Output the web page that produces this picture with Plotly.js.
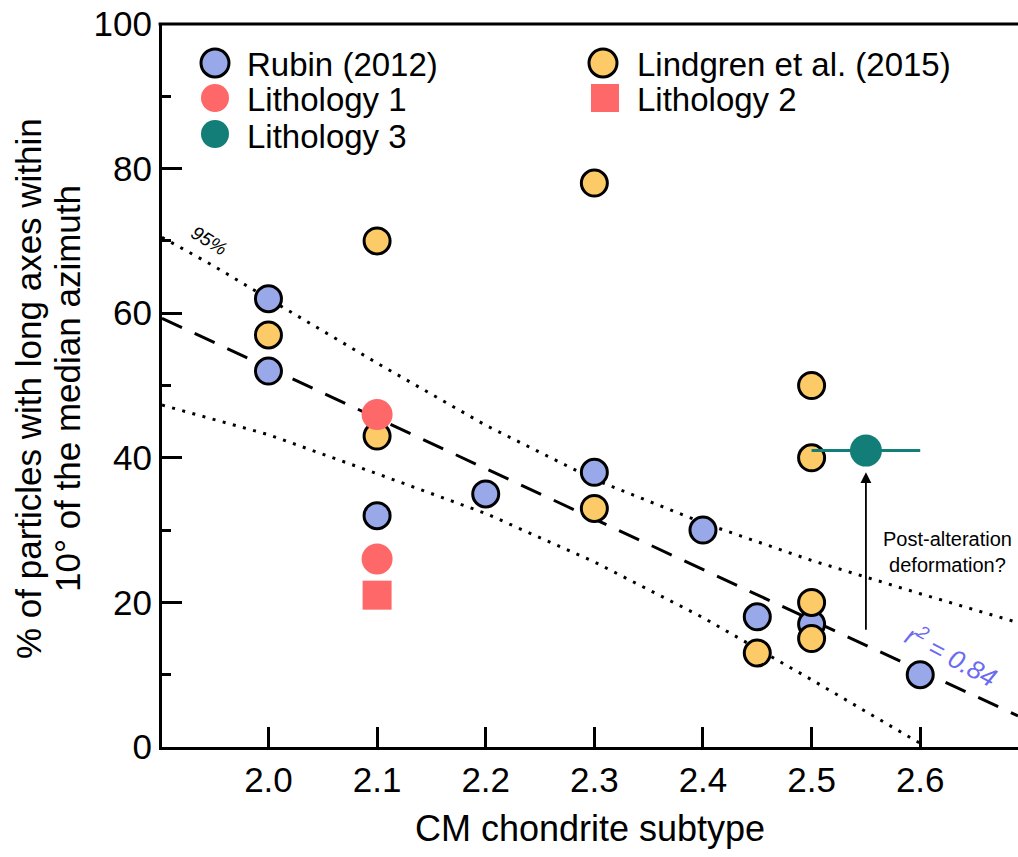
<!DOCTYPE html>
<html>
<head>
<meta charset="utf-8">
<script src="https://cdn.plot.ly/plotly-3.0.1.min.js"></script>
<style>html,body{margin:0;padding:0;background:#fff;}#chart{width:1018px;height:857px;}</style>
</head>
<body>
<div id="chart"></div>
<script>
// ---- data ----
const rubinX = [2.0, 2.0, 2.1, 2.2, 2.3, 2.4, 2.45, 2.5, 2.6];
const rubinY = [62, 52, 32, 35, 38, 30, 18, 17, 10];

const lindgrenX = [2.0, 2.1, 2.1, 2.3, 2.3, 2.45, 2.5, 2.5, 2.5, 2.5];
const lindgrenY = [57, 70, 43, 78, 33, 13, 50, 40, 20, 15];

const lith1X = [2.1, 2.1];
const lith1Y = [46, 26];

const lith2X = [2.1];
const lith2Y = [21];

const lith3X = [2.55];
const lith3Y = [41];
const lith3Err = [0.05];

// regression and 95% bands
const fitX = [1.902, 2.69];
const fitY = [59.3, 4.3];
const upperX = [1.902, 1.95, 2.0, 2.1, 2.2, 2.3, 2.4, 2.5, 2.6, 2.69];
const upperY = [70.5, 66.5, 62.0, 53.1, 44.5, 37.0, 31.0, 25.8, 21.2, 17.2];
const lowerX = [1.902, 2.0, 2.1, 2.2, 2.3, 2.4, 2.5, 2.6];
const lowerY = [47.3, 43.2, 37.8, 32.3, 25.6, 17.9, 9.3, 0.5];

const tickVals = [2.0, 2.1, 2.2, 2.3, 2.4, 2.5, 2.6];
const tickText = ['2.0', '2.1', '2.2', '2.3', '2.4', '2.5', '2.6'];

const legendNames = ['Rubin (2012)', 'Lindgren et al. (2015)', 'Lithology 1', 'Lithology 2', 'Lithology 3'];

// ---- style ----
const FONT = 'Liberation Sans, Arial, Helvetica, sans-serif';
const BLUE = '#98a8e8';
const ORANGE = '#fccb68';
const RED = '#fe6868';
const TEAL = '#137d78';

const traces = [
  {x: upperX, y: upperY, mode: 'lines', line: {color: 'black', width: 3, dash: '3px,7.5px'}, showlegend: false, hoverinfo: 'skip'},
  {x: lowerX, y: lowerY, mode: 'lines', line: {color: 'black', width: 3, dash: '3px,7.5px'}, showlegend: false, hoverinfo: 'skip'},
  {x: fitX, y: fitY, mode: 'lines', line: {color: 'black', width: 3, dash: '22px,14px'}, showlegend: false, hoverinfo: 'skip'},
  {x: rubinX, y: rubinY, mode: 'markers', name: legendNames[0],
   marker: {size: 26, color: BLUE, line: {color: 'black', width: 3}}, showlegend: false},
  {x: lindgrenX, y: lindgrenY, mode: 'markers', name: legendNames[1],
   marker: {size: 26, color: ORANGE, line: {color: 'black', width: 3}}, showlegend: false},
  {x: lith1X, y: lith1Y, mode: 'markers', name: legendNames[2],
   marker: {size: 31, color: RED, line: {width: 0}}, showlegend: false},
  {x: lith2X, y: lith2Y, mode: 'markers', name: legendNames[3],
   marker: {size: 29, symbol: 'square', color: RED, line: {width: 0}}, showlegend: false},
  {x: lith3X, y: lith3Y, mode: 'markers', name: legendNames[4],
   error_x: {type: 'data', array: lith3Err, visible: true, color: TEAL, thickness: 3, width: 0},
   marker: {size: 32, color: TEAL, line: {width: 0}}, showlegend: false}
];

// manual legend (tight rows as in the reference)
function px2x(p) { return (p - 162) / 856; }
function px2y(p) { return (747 - p) / 723; }

const legendItems = [
  {name: legendNames[0], mx: 215, my: 63, tx: 246, ty: 64, sym: 'circle', fill: BLUE, border: true, size: 28},
  {name: legendNames[1], mx: 603, my: 63, tx: 636, ty: 64, sym: 'circle', fill: ORANGE, border: true, size: 28},
  {name: legendNames[2], mx: 215, my: 98, tx: 246, ty: 100, sym: 'circle', fill: RED, border: false, size: 28},
  {name: legendNames[3], mx: 605, my: 98, tx: 636, ty: 100, sym: 'square', fill: RED, border: false, size: 28},
  {name: legendNames[4], mx: 215, my: 134, tx: 246, ty: 136, sym: 'circle', fill: TEAL, border: false, size: 28}
];

const shapes = [
  {type: 'line', xref: 'paper', yref: 'paper', x0: -0.004, x1: 1, y0: 1, y1: 1, line: {color: 'black', width: 3}}
];
const annotations = [];
legendItems.forEach(it => {
  const h = it.size / 2;
  shapes.push({
    type: it.sym === 'square' ? 'rect' : 'circle',
    xref: 'paper', yref: 'paper', xsizemode: 'pixel', ysizemode: 'pixel',
    xanchor: px2x(it.mx), yanchor: px2y(it.my),
    x0: -h, x1: h, y0: -h, y1: h,
    fillcolor: it.fill,
    line: it.border ? {color: 'black', width: 3} : {width: 0}
  });
  annotations.push({
    xref: 'paper', yref: 'paper', x: px2x(it.tx), y: px2y(it.ty),
    xanchor: 'left', yanchor: 'middle', showarrow: false, borderpad: 0,
    text: it.name, font: {family: FONT, size: 33, color: 'black'}
  });
});

// y title, two tight lines
annotations.push({xref: 'paper', yref: 'paper', x: px2x(28), y: px2y(389), textangle: -90,
  xanchor: 'center', yanchor: 'middle', showarrow: false, borderpad: 0,
  text: '% of particles with long axes within', font: {family: FONT, size: 35, color: 'black'}});
annotations.push({xref: 'paper', yref: 'paper', x: px2x(67), y: px2y(389), textangle: -90,
  xanchor: 'center', yanchor: 'middle', showarrow: false, borderpad: 0,
  text: '10° of the median azimuth', font: {family: FONT, size: 35, color: 'black'}});

// in-plot notes
annotations.push({x: 1.945, y: 70.0, xref: 'x', yref: 'y', text: '<i>95%</i>', textangle: 32,
  showarrow: false, font: {family: FONT, size: 19, color: 'black'}});
annotations.push({x: 2.629, y: 12.6, xref: 'x', yref: 'y', text: '<i>r<sup>2</sup> = 0.84</i>', textangle: 28,
  showarrow: false, font: {family: FONT, size: 26, color: '#6a6af2'}});
annotations.push({x: 2.625, y: 27.0, xref: 'x', yref: 'y', text: 'Post-alteration<br>deformation?',
  showarrow: false, font: {family: FONT, size: 20, color: 'black'}});
annotations.push({x: 2.55, y: 38, ax: 2.55, ay: 16, xref: 'x', yref: 'y', axref: 'x', ayref: 'y',
  text: '', showarrow: true, arrowhead: 2, arrowsize: 1.2, arrowwidth: 1.8, arrowcolor: 'black'});

const layout = {
  width: 1018, height: 857,
  margin: {l: 162, r: 0, t: 24, b: 110},
  paper_bgcolor: 'white', plot_bgcolor: 'white',
  showlegend: false,
  font: {family: FONT, color: 'black'},
  xaxis: {
    range: [1.902, 2.69], tickvals: tickVals, ticktext: tickText,
    ticks: 'inside', ticklen: 20, tickwidth: 3, tickcolor: 'black',
    showline: true, linecolor: 'black', linewidth: 3,
    showgrid: false, zeroline: false,
    tickfont: {family: FONT, size: 35, color: 'black'},
    title: {text: 'CM chondrite subtype', font: {family: FONT, size: 36, color: 'black'}, standoff: 18}
  },
  yaxis: {
    range: [0, 100], tickvals: [0, 20, 40, 60, 80, 100],
    ticks: 'inside', ticklen: 20, tickwidth: 3, tickcolor: 'black',
    minor: {tickvals: [10, 30, 50, 70, 90], ticks: 'inside', ticklen: 9, tickwidth: 3, tickcolor: 'black', showgrid: false},
    showline: true, linecolor: 'black', linewidth: 3,
    showgrid: false, zeroline: false,
    tickfont: {family: FONT, size: 35, color: 'black'}
  },
  shapes: shapes,
  annotations: annotations
};

Plotly.newPlot('chart', traces, layout, {displayModeBar: false, staticPlot: true});
</script>
</body>
</html>
